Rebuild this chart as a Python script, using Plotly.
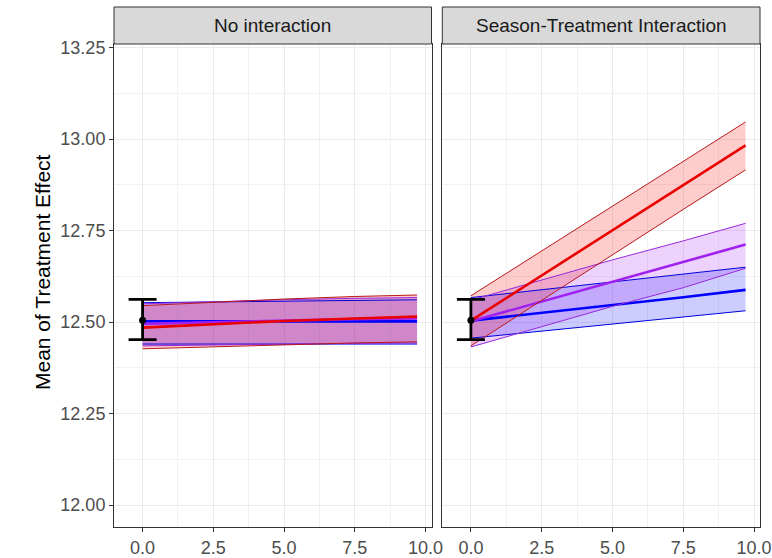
import plotly.graph_objects as go

# ---------------- data ----------------
panels = ["No interaction", "Season-Treatment Interaction"]
x_pts = [0.0, 2.5, 5.0, 7.5, 9.7]

# panel 1: No interaction
p1_red_mean = [12.485, 12.495, 12.503, 12.510, 12.515]
p1_red_up = [12.545, 12.555, 12.563, 12.570, 12.574]
p1_red_lo = [12.427, 12.433, 12.438, 12.443, 12.446]
p1_pur_mean = [12.495, 12.500, 12.505, 12.508, 12.510]
p1_pur_up = [12.550, 12.556, 12.561, 12.565, 12.567]
p1_pur_lo = [12.435, 12.438, 12.440, 12.442, 12.443]
p1_blu_mean = [12.502, 12.502, 12.502, 12.502, 12.502]
p1_blu_up = [12.553, 12.555, 12.557, 12.559, 12.561]
p1_blu_lo = [12.440, 12.440, 12.440, 12.440, 12.440]

# panel 2: Season-Treatment Interaction
p2_red_mean = [12.504, 12.627, 12.751, 12.874, 12.983]
p2_red_up = [12.572, 12.695, 12.818, 12.940, 13.047]
p2_red_lo = [12.435, 12.560, 12.684, 12.808, 12.916]
p2_pur_mean = [12.502, 12.556, 12.610, 12.664, 12.712]
p2_pur_up = [12.560, 12.616, 12.670, 12.722, 12.770]
p2_pur_lo = [12.432, 12.487, 12.543, 12.594, 12.647]
p2_blu_mean = [12.504, 12.525, 12.547, 12.568, 12.588]
p2_blu_up = [12.567, 12.588, 12.610, 12.630, 12.650]
p2_blu_lo = [12.456, 12.475, 12.494, 12.513, 12.531]

# observed mean with error bar (at x = 0)
obs_x = [0.0]
obs_mean = [12.505]
obs_up = [12.562]
obs_lo = [12.452]

y_ticks = [12.00, 12.25, 12.50, 12.75, 13.00, 13.25]
x_ticks = [0.0, 2.5, 5.0, 7.5, 10.0]

# ---------------- styling ----------------
FONT = "Liberation Sans"
series_style = {
    "red": dict(line="rgb(235,0,0)", edge="rgb(185,25,25)", fill="rgba(255,0,0,0.2)"),
    "purple": dict(line="rgb(160,32,240)", edge="rgb(150,40,220)", fill="rgba(160,32,240,0.2)"),
    "blue": dict(line="rgb(0,0,255)", edge="rgb(0,0,220)", fill="rgba(0,0,255,0.2)"),
}

panel_data = [
    {"blue": (p1_blu_mean, p1_blu_up, p1_blu_lo),
     "purple": (p1_pur_mean, p1_pur_up, p1_pur_lo),
     "red": (p1_red_mean, p1_red_up, p1_red_lo)},
    {"blue": (p2_blu_mean, p2_blu_up, p2_blu_lo),
     "purple": (p2_pur_mean, p2_pur_up, p2_pur_lo),
     "red": (p2_red_mean, p2_red_up, p2_red_lo)},
]

fig = go.Figure()

for i, pdata in enumerate(panel_data):
    xa = "x" if i == 0 else "x2"
    ya = "y" if i == 0 else "y2"
    for name in ["blue", "purple", "red"]:
        mean, up, lo = pdata[name]
        st = series_style[name]
        fig.add_trace(go.Scatter(
            x=x_pts + x_pts[::-1], y=up + lo[::-1], fill="toself",
            fillcolor=st["fill"], line=dict(width=0), mode="lines",
            hoverinfo="skip", showlegend=False, xaxis=xa, yaxis=ya))
    for name in ["blue", "purple", "red"]:
        mean, up, lo = pdata[name]
        st = series_style[name]
        for edge in (up, lo):
            fig.add_trace(go.Scatter(
                x=x_pts, y=edge, mode="lines",
                line=dict(color=st["edge"], width=1),
                showlegend=False, xaxis=xa, yaxis=ya))
        fig.add_trace(go.Scatter(
            x=x_pts, y=mean, mode="lines",
            line=dict(color=st["line"], width=2.6),
            showlegend=False, xaxis=xa, yaxis=ya))
    fig.add_trace(go.Scatter(
        x=obs_x, y=obs_mean, mode="markers",
        marker=dict(color="black", size=7),
        error_y=dict(type="data", symmetric=False,
                     array=[u - m for u, m in zip(obs_up, obs_mean)],
                     arrayminus=[m - l for l, m in zip(obs_lo, obs_mean)],
                     color="black", thickness=2.8, width=14),
        showlegend=False, xaxis=xa, yaxis=ya))

W, H = 772, 558
ml, mr, mt, mb = 114, 12, 7, 31
pw = W - ml - mr
ph = H - mt - mb
d1 = [0.0, 317.5 / pw]
d2 = [(442.3 - ml) / pw, 1.0]
ytop = (H - mb - 44) / ph

axis_common = dict(
    showline=True, linecolor="#333333", linewidth=1, mirror=True,
    ticks="outside", ticklen=4, tickcolor="#333333", tickwidth=1,
    showgrid=True, gridcolor="#EBEBEB", gridwidth=1.1, zeroline=False,
    automargin=False,
    tickfont=dict(family=FONT, size=18, color="#4D4D4D"),
)

fig.update_layout(
    width=W, height=H,
    margin=dict(l=ml, r=mr, t=mt, b=mb, autoexpand=False),
    paper_bgcolor="white", plot_bgcolor="white",
    showlegend=False,
    xaxis=dict(domain=d1, range=[-1.01, 10.21], tickvals=x_ticks,
               ticktext=[f"{v:.1f}" for v in x_ticks], anchor="y",
               minor=dict(dtick=1.25, tick0=0, showgrid=True, gridcolor="#F2F2F2", gridwidth=0.6),
               **axis_common),
    xaxis2=dict(domain=d2, range=[-1.01, 10.21], tickvals=x_ticks,
                ticktext=[f"{v:.1f}" for v in x_ticks], anchor="y2",
                minor=dict(dtick=1.25, tick0=0, showgrid=True, gridcolor="#F2F2F2", gridwidth=0.6),
                **axis_common),
    yaxis=dict(domain=[0, ytop], range=[11.94, 13.26], tickvals=y_ticks,
               ticktext=[f"{v:.2f}" for v in y_ticks], anchor="x",
               minor=dict(dtick=0.125, tick0=12.0, showgrid=True, gridcolor="#F2F2F2", gridwidth=0.6),
               **axis_common),
    yaxis2=dict(domain=[0, ytop], range=[11.94, 13.26], tickvals=y_ticks,
                showticklabels=False, anchor="x2", matches="y",
                minor=dict(dtick=0.125, tick0=12.0, showgrid=True, gridcolor="#F2F2F2", gridwidth=0.6),
                **{k: v for k, v in axis_common.items() if k not in ("ticks", "ticklen")},
                ticks=""),
)

shapes = []
annotations = []
for dom, label in zip([d1, d2], panels):
    shapes.append(dict(type="rect", xref="paper", yref="paper",
                       x0=dom[0], x1=dom[1], y0=ytop, y1=1.0,
                       fillcolor="#D9D9D9", line=dict(color="#333333", width=1),
                       layer="above"))
    annotations.append(dict(text=label, xref="paper", yref="paper",
                            x=(dom[0] + dom[1]) / 2, y=(ytop + 1.0) / 2,
                            showarrow=False, xanchor="center", yanchor="middle",
                            font=dict(family=FONT, size=19, color="#1A1A1A")))

annotations.append(dict(text="Mean of Treatment Effect", xref="paper", yref="paper",
                        x=(42 - ml) / pw, y=(H - mb - 272) / ph, textangle=-90,
                        showarrow=False, xanchor="center", yanchor="middle",
                        font=dict(family=FONT, size=21, color="black")))

fig.update_layout(shapes=shapes, annotations=annotations)

fig.write_html("out.html")
